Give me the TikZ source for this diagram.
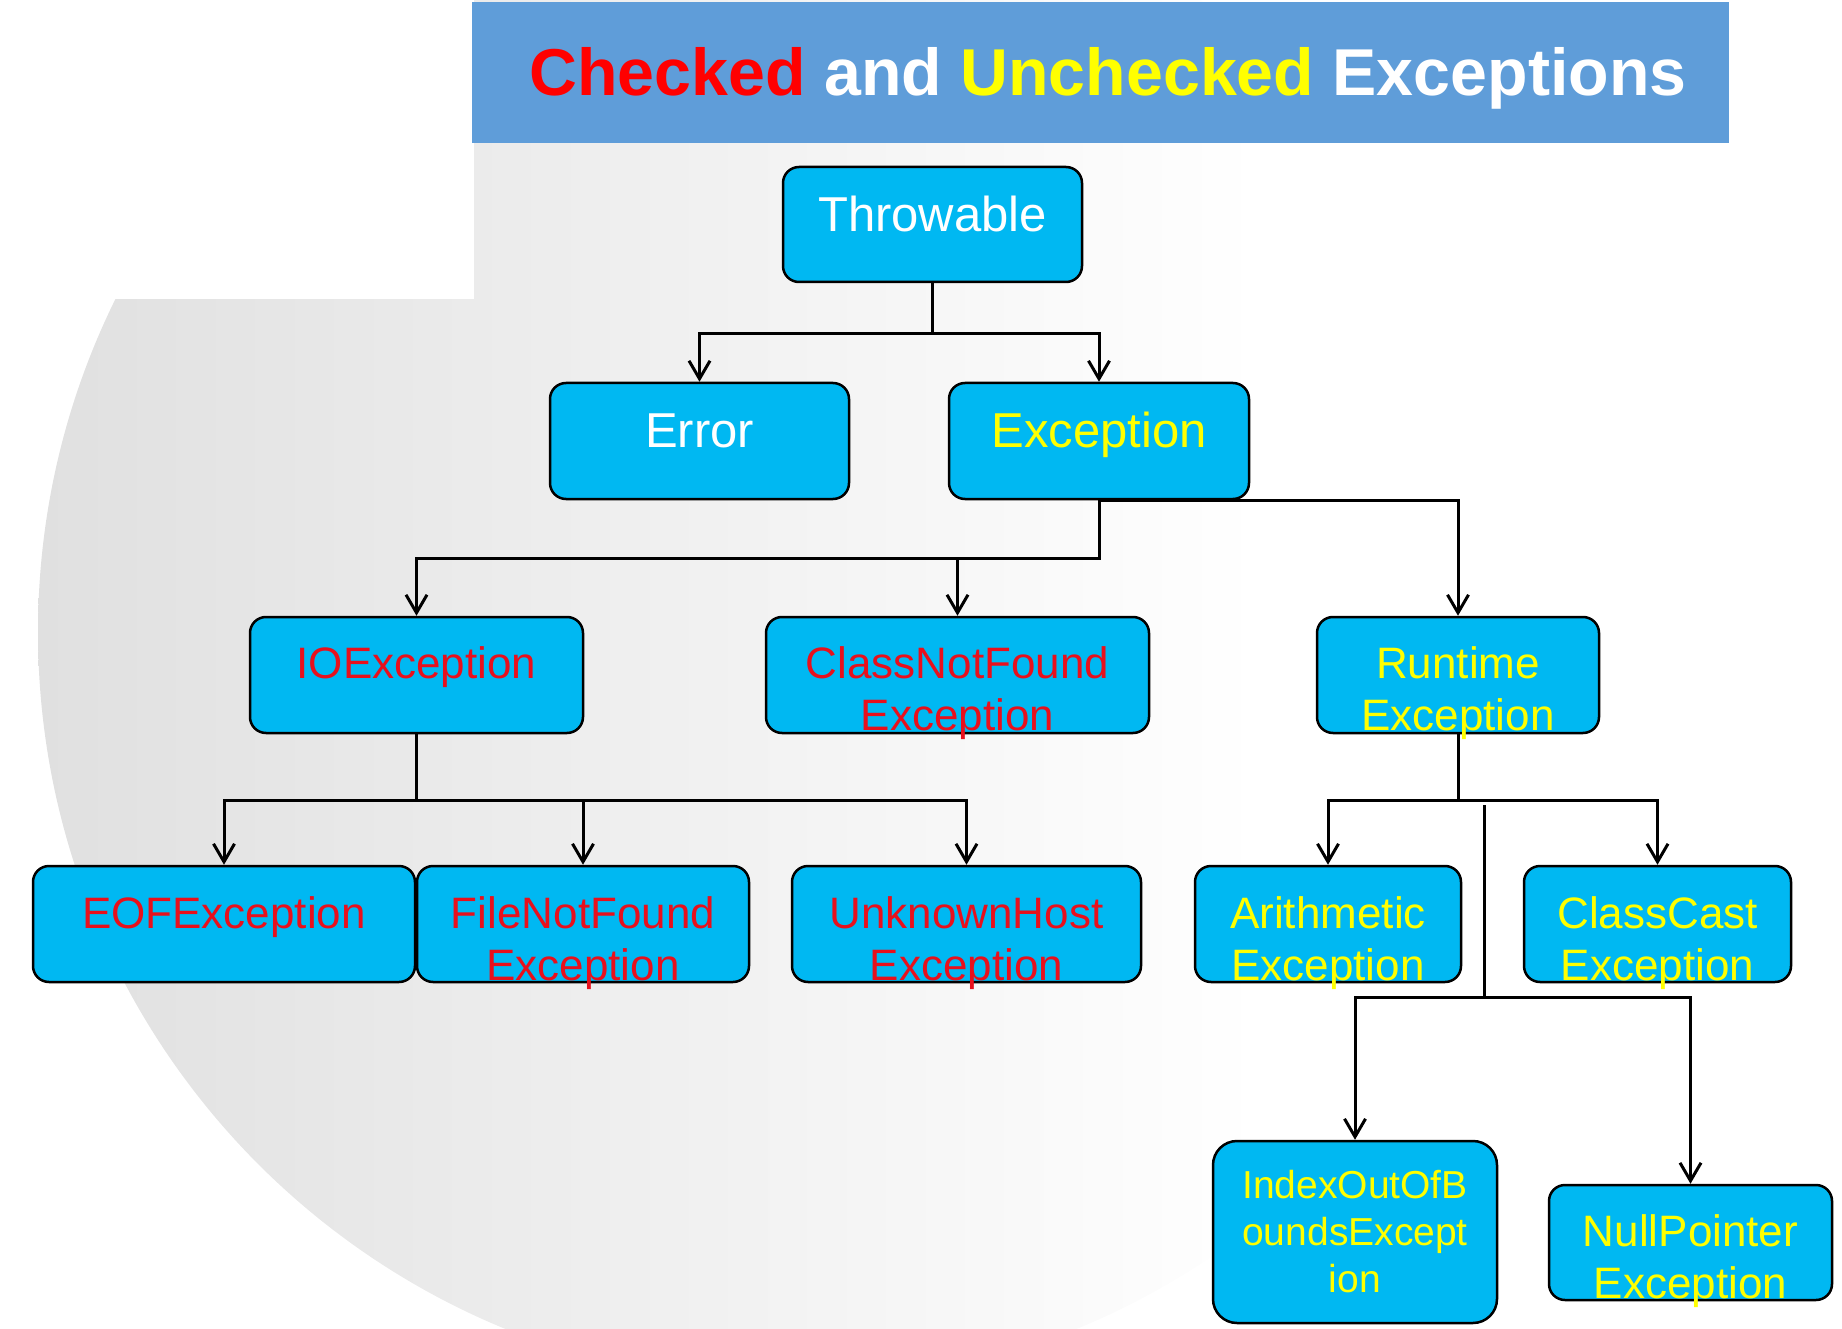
\documentclass[tikz,border=0pt]{standalone}
\usepackage{fontspec}
\setmainfont{Liberation Sans}
\usetikzlibrary{arrows.meta}
\definecolor{boxblue}{HTML}{00B8F2}
\definecolor{barblue}{HTML}{5F9DD9}
\definecolor{txtred}{HTML}{E8101C}
\definecolor{txtyellow}{HTML}{FFFF00}
\definecolor{bgleft}{HTML}{E0E0E0}
\tikzset{
  box/.style={draw=black, line width=2.5pt, fill=boxblue, rounded corners=16pt, inner sep=0pt},
  bigtxt/.style={anchor=base, inner sep=0pt, font=\fontsize{49}{58}\selectfont},
  midtxt/.style={anchor=base, inner sep=0pt, font=\fontsize{44}{52}\selectfont},
  smalltxt/.style={anchor=base, inner sep=0pt, font=\fontsize{39}{47}\selectfont},
  conn/.style={draw=black, line width=3pt, line join=miter, -{Straight Barb[length=18pt,width=21pt,line width=3pt]}}
}
\newcommand{\twolines}[2]{\begin{tabular}[t]{@{}c@{}}#1\\#2\end{tabular}}
\begin{document}
\begin{tikzpicture}[x=1pt,y=-1pt]
\useasboundingbox (0,0) rectangle (1842,1329);
\begin{scope}
  \clip (0,0) rectangle (1842,1329);
  \clip (791,632) circle (753);
  \shade[left color=bgleft, right color=white] (38,-121) rectangle (1260,1385);
\end{scope}
\fill[white] (0,0) rectangle (474,299);
% title bar
\node[fill=barblue, minimum width=1257pt, minimum height=141pt, inner sep=0pt] (bar) at (1100.5,72.5) {};
\node[anchor=base, inner sep=0pt, text=white, font=\fontsize{66.3}{80}\selectfont\bfseries] (title) at (1108,96)
  {\textcolor{red}{Checked} and \textcolor{txtyellow}{Unchecked} Exceptions};
% boxes
\node[box, minimum width=299pt, minimum height=115pt] (thr) at (932.5,224.5) {};
\node[box, minimum width=299pt, minimum height=116pt] (err) at (699.5,441) {};
\node[box, minimum width=300pt, minimum height=116pt] (exc) at (1099,441) {};
\node[box, minimum width=333pt, minimum height=116pt] (io) at (416.5,675) {};
\node[box, minimum width=383pt, minimum height=116pt] (cnf) at (957.5,675) {};
\node[box, minimum width=282pt, minimum height=116pt] (rt) at (1458,675) {};
\node[box, minimum width=382pt, minimum height=116pt] (eof) at (224,924) {};
\node[box, minimum width=332pt, minimum height=116pt] (fnf) at (583,924) {};
\node[box, minimum width=349pt, minimum height=116pt] (uh) at (966.5,924) {};
\node[box, minimum width=266pt, minimum height=116pt] (ar) at (1328,924) {};
\node[box, minimum width=267pt, minimum height=116pt] (cc) at (1657.5,924) {};
\node[box, rounded corners=24pt, minimum width=284pt, minimum height=182pt] (ioob) at (1355,1232) {};
\node[box, minimum width=283pt, minimum height=115pt] (np) at (1690.5,1242.5) {};
% texts
\node[bigtxt, text=white] (thr-t) at (932.5,232) {Throwable};
\node[bigtxt, text=white] (err-t) at (699.5,447) {Error};
\node[bigtxt, text=txtyellow] (exc-t) at (1099,447) {Exception};
\node[midtxt, text=txtred] (io-t) at (416.5,678) {IOException};
\node[midtxt, text=txtred] (cnf-t) at (957.5,678) {\twolines{ClassNotFound}{Exception}};
\node[midtxt, text=txtyellow] (rt-t) at (1458,678) {\twolines{Runtime}{Exception}};
\node[midtxt, text=txtred] (eof-t) at (224,928) {EOFException};
\node[midtxt, text=txtred] (fnf-t) at (583,928) {\twolines{FileNotFound}{Exception}};
\node[midtxt, text=txtred] (uh-t) at (966.5,928) {\twolines{UnknownHost}{Exception}};
\node[midtxt, text=txtyellow] (ar-t) at (1328,928) {\twolines{Arithmetic}{Exception}};
\node[midtxt, text=txtyellow] (cc-t) at (1657.5,928) {\twolines{ClassCast}{Exception}};
\node[smalltxt, text=txtyellow] (ioob-t) at (1355,1198) {\begin{tabular}[t]{@{}c@{}}IndexOutOfB\\oundsExcept\\ion\end{tabular}};
\node[midtxt, text=txtyellow] (np-t) at (1690.5,1246) {\twolines{NullPointer}{Exception}};
% connectors
\draw[conn] (thr.south) -- ++(0,50) -| (err.north);
\draw[conn] (thr.south) -- ++(0,50) -| (exc.north);
\draw[conn] (exc.south) -- ++(0,58) -| (io.north);
\draw[conn] (exc.south) -- ++(0,58) -| (cnf.north);
\draw[conn] (exc.south) -| (rt.north);
\draw[conn] (io.south) -- ++(0,66) -| (eof.north);
\draw[conn] (io.south) -- ++(0,66) -| (fnf.north);
\draw[conn] (io.south) -- ++(0,66) -| (uh.north);
\draw[conn] (rt.south) -- ++(0,66) -| (ar.north);
\draw[conn] (rt.south) -- ++(0,66) -| (cc.north);
\coordinate (split) at (1484,805);
\draw[conn] (split) -- ++(0,192) -| (ioob.north);
\draw[conn] (split) -- ++(0,192) -| (np.north);
\end{tikzpicture}
\end{document}
